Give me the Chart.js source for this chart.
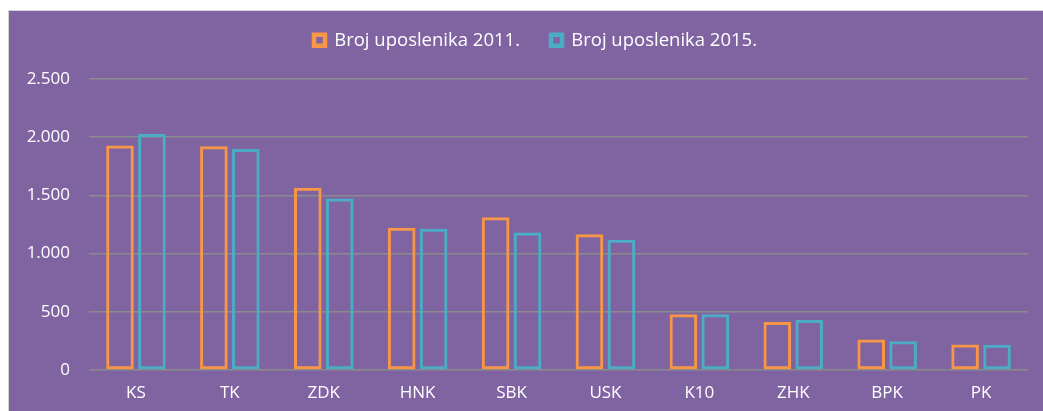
<!DOCTYPE html>
<html>
<head>
<meta charset="utf-8">
<script src="https://cdn.jsdelivr.net/npm/chart.js@4"></script>
<style>
  body { margin: 0; background: #ffffff; }
  #wrap {
    position: absolute; left: 8px; top: 10px;
    width: 1035px; height: 401px; box-sizing: border-box;
    border-top: 1px solid #d4d4d4; border-left: 1px solid #d4d4d4;
    background: #8064a2;
  }
  canvas { display: block; }
</style>
</head>
<body>
<div id="wrap"><canvas id="chart" width="1034" height="400"></canvas></div>
<script>
const categories = ["KS", "TK", "ZDK", "HNK", "SBK", "USK", "K10", "ZHK", "BPK", "PK"];
const employees2011 = [1928, 1923, 1565, 1222, 1313, 1167, 479, 413, 262, 219];
const employees2015 = [2028, 1898, 1473, 1214, 1182, 1119, 479, 430, 248, 216];
const seriesLabels = ["Broj uposlenika 2011.", "Broj uposlenika 2015."];

const tickFont = { family: "'Open Sans', sans-serif", size: 17 };
const legendFont = { family: "'Open Sans', sans-serif", size: 18.5 };

// give the legend extra room below, and nudge it right like the reference
const legendTweak = {
  id: "legendTweak",
  beforeInit(chart) {
    const fit = chart.legend.fit;
    chart.legend.fit = function () {
      fit.bind(this)();
      this.height += 19.5;
    };
  },
  afterLayout(chart) {
    chart.legend.left += 17;
    chart.legend.right += 17;
  }
};

new Chart(document.getElementById("chart"), {
  type: "bar",
  data: {
    labels: categories,
    datasets: [
      {
        label: seriesLabels[0],
        data: employees2011,
        backgroundColor: "rgba(0,0,0,0)",
        borderColor: "#f79646",
        borderWidth: 3,
        borderSkipped: false,
      },
      {
        label: seriesLabels[1],
        data: employees2015,
        backgroundColor: "rgba(0,0,0,0)",
        borderColor: "#4bacc6",
        borderWidth: 3,
        borderSkipped: false,
      },
    ],
  },
  options: {
    responsive: false,
    animation: false,
    categoryPercentage: 0.68,
    barPercentage: 0.865,
    layout: { padding: { top: -11, right: 15, left: 0, bottom: 0 } },
    scales: {
      x: {
        grid: { display: false, drawTicks: false },
        border: { display: false },
        ticks: { color: "#ffffff", font: tickFont, padding: 13 },
        afterFit(scale) { scale.height = 41; },
      },
      y: {
        min: 0,
        max: 2500,
        ticks: {
          stepSize: 500,
          color: "#ffffff",
          font: tickFont,
          padding: 19,
          callback: (v) => v.toLocaleString("de-DE"),
        },
        grid: { color: "#8b8b8b", lineWidth: 1.5, drawTicks: false },
        border: { display: false },
        afterFit(scale) { scale.width = 80; },
      },
    },
    plugins: {
      legend: {
        position: "top",
        labels: {
          color: "#ffffff",
          font: legendFont,
          boxWidth: 11,
          boxHeight: 11,
          padding: 31,
          generateLabels(chart) {
            // thicker box outline, as in the reference legend
            return Chart.defaults.plugins.legend.labels
              .generateLabels(chart)
              .map((item) => ({ ...item, lineWidth: 4.5 }));
          },
        },
      },
      tooltip: { enabled: false },
    },
  },
  plugins: [legendTweak],
});
</script>
</body>
</html>
